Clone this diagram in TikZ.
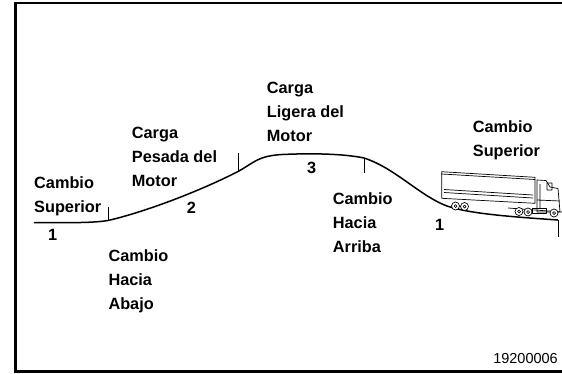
\documentclass[tikz,border=0pt]{standalone}
\usepackage{fontspec}
\setmainfont{Liberation Sans}
\usetikzlibrary{positioning}

\begin{document}
\begin{tikzpicture}[
  x=1pt, y=-1pt,
  lbl/.style={font=\fontsize{16.3}{24}\selectfont\bfseries, align=left,
              anchor=base west, inner sep=0pt},
  num/.style={font=\fontsize{16.3}{24}\selectfont\bfseries,
              anchor=base west, inner sep=0pt},
  road/.style={line width=1.5pt},
  tick/.style={line width=0.8pt},
  frame/.style={line width=2.7pt},
  truck/.style={line width=0.7pt, line join=round}
]
\useasboundingbox (0,0) rectangle (562,373);

% frame, open on the right
\draw[frame] (562,3) -- (15.3,3) -- (15.3,371.5) -- (562,371.5);

% points where the gear changes
\coordinate (t1) at (108,220.5);
\coordinate (t2) at (238,171.5);
\coordinate (t3) at (364,158);
\coordinate (t4) at (558,220);

\draw[road] (34,222.5) .. controls (80,223) and (95,222.5) .. (t1)
  .. controls (145,212) and (200,191) .. (t2)
  .. controls (255,162) and (258,156) .. (282,154.5)
  .. controls (315,153) and (345,154) .. (t3)
  .. controls (395,168) and (420,196) .. (447,206)
  .. controls (470,214) and (515,217) .. (t4);

\draw[tick] (t1) -- ++(0,-14);
\draw[tick] (t2) -- ++(0,-18.5);
\draw[tick] (t3) -- ++(0,15);
\draw[tick] (t4) -- ++(0,17);

% truck on the downhill
\draw[truck, fill=white] (441.7,171.7) -- (535,177.3) -- (535,203.3) -- (441.7,198.3) -- cycle;
\draw[truck] (444,189.5) -- (533,195) (444,192.5) -- (533,198);
\draw[truck] (441.7,174) -- (535,179.5);
\draw[truck, fill=white] (537,180) -- (546,180.5) -- (550,187) -- (558,188.5)
  -- (560,212) -- (537,212) -- cycle;
\draw[truck] (547,183) rectangle (552,190) (540,184) -- (540,208) (537,200) -- (560,201);
\draw[truck] (508,208) -- (562,212);
\foreach \wx/\wy in {455.5/206, 464.5/206.5, 519/211.5, 528/212, 554/213}
  \draw[truck, fill=white] (\wx,\wy) circle (4) (\wx,\wy) circle (1.5);
\draw[truck] (532,208) rectangle (546,213);

% texts along the road (placed by the baseline of their last line)
\node[lbl] (cs1) at (34,212.3) {Cambio\\Superior};
\node[num] (n1) at (48,240) {1};
\node[lbl] (cha) at (108.3,309.7) {Cambio\\Hacia\\Abajo};
\node[lbl] (cpm) at (131.7,186.3) {Carga\\Pesada del\\Motor};
\node[num] (n2) at (186.7,213.3) {2};
\node[lbl] (clm) at (266.7,141.3) {Carga\\Ligera del\\Motor};
\node[num] (n3) at (307,173.3) {3};
\node[lbl] (char) at (332.7,252) {Cambio\\Hacia\\Arriba};
\node[num] (n4) at (435,230) {1};
\node[lbl] (cs2) at (472.7,156.7) {Cambio\\Superior};

\node[font=\fontsize{14.5}{16}\selectfont, anchor=base east, inner sep=0pt] (ref) at (558,363) {19200006};
\end{tikzpicture}
\end{document}
